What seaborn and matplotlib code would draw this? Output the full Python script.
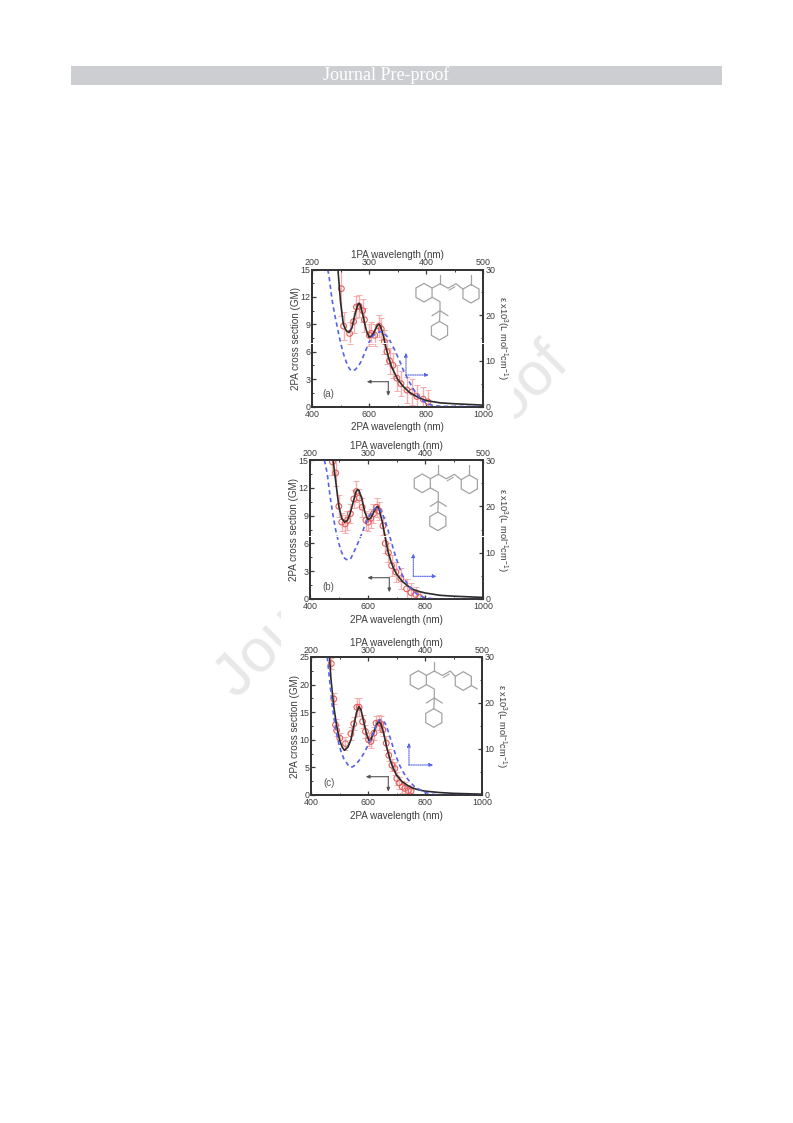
import numpy as np
import seaborn as sns
import matplotlib
matplotlib.use('Agg')
import matplotlib.pyplot as plt
from matplotlib.patches import RegularPolygon, Rectangle

W, H = 793, 1123

# panel (a) values
black_a_x = [491,500,510,520,530,540,550,560,565,570,580,590,600,610,620,630,635,640,650,660,670,680,700,720,740,760,780,800,850,900,1000]
black_a_y = [15,11.5,9,8.3,8.1,8.6,10,11.1,11.3,11.1,9.8,8.4,7.6,7.7,8.3,8.9,9.0,8.8,7.8,6.4,5.2,4.3,3.0,2.2,1.6,1.2,0.9,0.65,0.4,0.3,0.15]
blue_a_x = [227.5,230,235,240,245,250,255,260,265,269,275,280,285,290,295,300,305,310,315,320,325,330,335,340,345,350,355,360,365,370,375,380,385,390,395,405,415,430,500]
blue_a_y = [30,28.4,23.5,20,17,14,11.6,9.8,8.4,7.8,8.0,8.6,9.6,11,12.5,14,15.2,15.8,16.2,16.4,16.2,15.6,14.8,13.6,12.4,11,9.6,8,6.8,5.6,4.4,3.4,2.6,1.8,1.2,0.5,0.15,0.03,0]
pts_a_x = [503,511,532,546,556,565,578,584,601,608,620,635,643,654,663,672,684,698,712,733,751,768,790,807]
pts_a_y = [12.9,8.8,8.0,9.3,10.9,11.0,10.5,9.5,7.8,8.0,7.8,8.8,8.5,7.1,6.0,5.0,4.5,3.1,2.5,1.8,1.6,1.1,0.8,0.5]
pts_a_e = [3.0,1.5,1.2,1.2,1.2,1.2,1.3,1.3,1.2,1.2,1.2,1.2,1.2,1.3,1.3,1.4,1.4,1.4,1.4,1.4,1.4,1.3,1.3,1.3]

# panel (b) values
black_b_x = [480,490,500,510,520,530,540,550,560,565,570,580,590,600,610,620,630,635,640,650,660,670,680,690,700,720,740,760,780,800,850,900,1000]
black_b_y = [15,12.5,10,8.7,8.3,8.5,9.3,10.5,11.6,11.8,11.7,10.8,9.4,8.6,8.7,9.3,9.9,10,9.7,8.4,6.8,5.2,4.1,3.3,2.7,1.9,1.4,1.0,0.8,0.65,0.4,0.3,0.17]
blue_b_x = [225,230,235,240,245,250,255,260,265,270,275,280,285,290,295,300,305,310,315,320,325,330,335,340,345,350,355,360,370,380,390,400,415,500]
blue_b_y = [30,27,22,18,14.6,12,10,8.8,8.4,8.6,9.8,11.2,12.6,14.2,15.8,17.2,18.4,19.2,19.8,19.6,18.6,17,15,12.8,10.6,8.6,6.8,5.2,3,1.6,0.7,0.24,0.04,0]
pts_b_x = [478,489,500,510,522,530,540,552,561,571,581,594,602,611,620,631,640,653,661,672,683,698,715,735,750,766,781]
pts_b_y = [14.8,13.6,10,8.3,8.1,8.5,9.2,10.8,11.6,10.9,9.9,8.5,8.3,8.7,9.2,9.9,9.5,7.9,6.0,5.0,3.6,2.9,2.2,1.1,0.7,0.5,0.15]
pts_b_e = [1.4,1.4,1.2,1.0,1.0,1.0,1.0,1.0,1.1,1.0,1.0,1.0,1.0,1.0,1.0,1.0,1.0,1.0,1.0,1.0,1.1,1.1,1.1,1.1,1.0,0.8,0.6]

# panel (c) values
black_c_x = [465,470,480,490,500,510,518,530,540,550,560,568,575,585,595,603,610,620,630,638,645,655,665,675,685,700,720,740,760,780,800,850,900,1000]
black_c_y = [25,21,16,12.5,10,8.6,8.1,8.7,10,12.5,15,16,15.5,13.3,11,9.9,10,11.3,12.8,13.3,12.9,11.2,8.8,6.8,5.3,3.6,2.4,1.7,1.2,0.9,0.7,0.45,0.3,0.15]
blue_c_x = [228.5,232.5,237.5,242.5,247.5,252.5,257.5,262.5,267.5,272.5,277.5,285,292.5,300,307.5,315,320,325,330,335,340,345,350,355,360,370,380,390,400,410,425,500]
blue_c_y = [30,25.2,19.2,15,11.8,9.5,7.9,7,6.1,6.1,6.5,7.6,9,10.8,13,15.4,16.3,16.4,15.6,14,12,10,8.2,6.6,5.3,3.4,2,1.2,0.6,0.18,0.02,0]
pts_c_x = [471,480,486,490,501,521,540,550,561,569,581,591,602,610,621,628,638,644,652,664,673,684,694,701,709,720,729,741,751]
pts_c_y = [23.8,17.4,12.7,11.7,10.3,9.3,11.1,12.9,15.9,15.9,13.3,11.5,10.0,9.7,11.2,13,13.1,12.9,11.8,9.4,7.2,5.4,4.8,3,2.2,1.5,1.2,0.8,0.7]
pts_c_e = [1.0,1.0,1.0,1.0,1.0,1.2,1.2,1.2,1.6,1.6,1.2,1.2,1.2,1.2,1.2,1.3,1.4,1.4,1.2,1.2,1.1,1.1,1.1,1.1,1.1,1.1,1.1,1.0,0.8]

left_ticks_ab = [0, 3, 6, 9, 12, 15]
left_ticks_c = [0, 5, 10, 15, 20, 25]
bottom_ticks = [400, 600, 800, 1000]
top_ticks = [200, 300, 400, 500]
right_ticks = [0, 10, 20, 30]

sns.set_theme(style='ticks')
plt.rcParams['font.family'] = ['Liberation Sans', 'DejaVu Sans']
plt.rcParams['mathtext.default'] = 'regular'
TXT = '#3c3c3c'
LINE = '#333333'
BLUE = '#5563e6'


def px_axes(fig, x0, y0, x1, y1):
    return fig.add_axes([x0 / W, 1 - y1 / H, (x1 - x0) / W, (y1 - y0) / H])


def draw_panel(fig, box, bx, by, blx, bly, px, py, pe, lticks, ymax):
    ax = px_axes(fig, *box)
    ax.patch.set_alpha(0)
    ax.errorbar(px, py, yerr=pe, fmt='none', ecolor='#f6aeae', elinewidth=1.0, capsize=2, capthick=0.7, zorder=2)
    sns.scatterplot(x=px, y=py, ax=ax, s=17, facecolor='none', edgecolor='#e4605e', linewidth=0.8, zorder=3)
    sns.lineplot(x=bx, y=by, ax=ax, color='#2b2b2b', lw=1.2, zorder=4, sort=False)
    ax.set_xlim(400, 1000)
    ax.set_ylim(0, ymax)
    ax.set_xticks(bottom_ticks)
    ax.set_xticks([500, 700, 900], minor=True)
    ax.set_yticks(lticks)
    step = lticks[1] - lticks[0]
    ax.set_yticks([t + step / 2 for t in lticks[:-1]], minor=True)
    ax.set_xlabel('2PA wavelength (nm)', fontsize=7.1, color=TXT, labelpad=2.5)
    ax.set_ylabel('2PA cross section (GM)', fontsize=7.1, color=TXT, labelpad=0)

    rt = ax.twinx()
    rt.set_ylim(0, 30)
    rt.set_yticks(right_ticks)
    rt.set_yticks([5, 15, 25], minor=True)
    rt.set_ylabel(r'$\epsilon$ x10$^3$(L mol$^{-1}$cm$^{-1}$)', fontsize=6.7, color=TXT, rotation=270, labelpad=9.5)

    tp = rt.twiny()
    tp.set_xlim(200, 500)
    tp.set_xticks(top_ticks)
    tp.set_xticks([250, 350, 450], minor=True)
    tp.set_xlabel('1PA wavelength (nm)', fontsize=7.1, color=TXT, labelpad=0)
    sns.lineplot(x=blx, y=bly, ax=tp, color=BLUE, lw=1.2, linestyle=(0, (2.6, 2)), sort=False, zorder=1)
    tp.set_ylim(0, 30)

    for a in (ax, rt, tp):
        a.tick_params(which='major', direction='in', length=2.8, width=0.9, labelsize=6.4, colors=TXT, pad=1)
        a.tick_params(which='minor', direction='in', length=1.6, width=0.7, colors=TXT)
        for s in a.spines.values():
            s.set_linewidth(1.1)
            s.set_color(LINE)
    tp.tick_params(axis='x', which='major', pad=1.5)
    ax.tick_params(axis='x', which='major', pad=2.5)
    rt.tick_params(axis='y', which='major', pad=2)
    return ax


def molecule(ov, cx, cy, kind):
    col = '#a3a3a3'
    r = 9.3
    x2 = 45 if kind == 'c' else 47
    for dx, dy in [(0, 0), (x2, 1), (15.5, 38)]:
        ov.add_patch(RegularPolygon((cx + dx, cy + dy), 6, radius=r, fill=False, ec=col, lw=0.9, orientation=0))
    segs = [[(8, -4.5), (16, -9), (24, -4.5), (32, -9), (x2 - 8, -3.5)],
            [(16, -9), (16, -18)],
            [(8, 4.5), (16, 9), (16, 18), (15.5, 29)],
            [(16, 18), (8, 23)],
            [(16, 18), (24, 23)]]
    if kind == 'c':
        segs.append([(x2 + 8, 5.5), (x2 + 14, 9)])
    else:
        segs.append([(x2, -8), (x2, -18)])
    for seg in segs:
        ov.plot([cx + p[0] for p in seg], [cy + p[1] for p in seg], color=col, lw=0.9)
    ov.plot([cx + 25, cx + 31], [cy - 2.5, cy - 6], color=col, lw=0.8)


fig = plt.figure(figsize=(W / 100, H / 100), dpi=100, facecolor='white')

# page furniture, in pixel coordinates, behind the panels
bg = fig.add_axes([0, 0, 1, 1], zorder=-1)
bg.set_xlim(0, W)
bg.set_ylim(H, 0)
bg.axis('off')
bg.text(393, 522, 'Journal Pre-proof', fontsize=44, color='#e8e8e8', rotation=45,
        ha='center', va='center', rotation_mode='anchor')
bg.add_patch(Rectangle((281, 245), 233, 585, fc='white', ec='none', zorder=3))
bg.add_patch(Rectangle((71, 66), 651, 19, fc='#cdced2', ec='none', zorder=4))
bg.text(386, 75.5, 'Journal Pre-proof', fontsize=13, color='white', ha='center', va='center',
        family='Liberation Serif', zorder=5)

draw_panel(fig, (312, 269.5, 483, 406.5), black_a_x, black_a_y, blue_a_x, blue_a_y, pts_a_x, pts_a_y, pts_a_e, left_ticks_ab, 15)
draw_panel(fig, (310, 460, 483, 599), black_b_x, black_b_y, blue_b_x, blue_b_y, pts_b_x, pts_b_y, pts_b_e, left_ticks_ab, 15)
draw_panel(fig, (311, 657, 482, 795), black_c_x, black_c_y, blue_c_x, blue_c_y, pts_c_x, pts_c_y, pts_c_e, left_ticks_c, 25)

# annotations on top: panel letters, direction arrows, structures
ov = fig.add_axes([0, 0, 1, 1], zorder=10)
ov.set_xlim(0, W)
ov.set_ylim(H, 0)
ov.axis('off')

HEAD = '-|>,head_width=0.08,head_length=0.18'


def arrows(black, blue):
    (x0, y0), (x1, y1), (x2, y2) = black
    ov.annotate('', xy=(x0, y0), xytext=(x1, y1), arrowprops=dict(arrowstyle=HEAD, color='#555555', lw=0.8, shrinkA=0, shrinkB=0))
    ov.annotate('', xy=(x2, y2), xytext=(x1, y1), arrowprops=dict(arrowstyle=HEAD, color='#555555', lw=0.8, shrinkA=0, shrinkB=0))
    (cx, cy), (ux, uy), (rx, ry) = blue
    for tx, ty in [(ux, uy), (rx, ry)]:
        ov.annotate('', xy=(tx, ty), xytext=(cx, cy), arrowprops=dict(arrowstyle=HEAD, color=BLUE, lw=0.8, linestyle=(0, (1, 1)), shrinkA=0, shrinkB=0))


arrows([(366.7, 381.7), (388.3, 381.7), (388.3, 396)], [(406, 375), (406, 352.7), (429, 375)])
arrows([(367.3, 577.7), (389.3, 577.7), (389.3, 592.3)], [(413.3, 576.3), (413.3, 553.3), (436.7, 576.3)])
arrows([(365.7, 776.7), (388.3, 776.7), (388.3, 791.7)], [(409, 765), (409, 742.7), (433.3, 765)])

ov.text(322.5, 394, '(a)', fontsize=7, color='#555555', ha='left', va='center')
ov.text(322, 587, '(b)', fontsize=7, color='#555555', ha='left', va='center')
ov.text(323, 783, '(c)', fontsize=7, color='#555555', ha='left', va='center')

molecule(ov, 424, 292.7, 'a')
molecule(ov, 422.3, 483.3, 'b')
molecule(ov, 418.3, 680, 'c')

# scan seam across the panels
ov.plot([300, 500], [343.3, 343.3], color='white', lw=0.7)
ov.plot([300, 500], [536, 536], color='white', lw=0.7)

fig.savefig('out.png', dpi=100)
